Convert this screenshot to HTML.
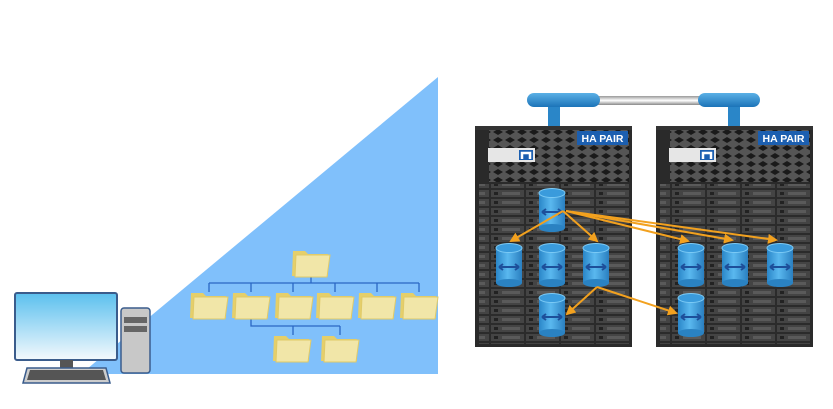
<!DOCTYPE html>
<html><head><style>body{margin:0;background:#fff}svg{display:block}</style></head><body>
<svg width="833" height="409" viewBox="0 0 833 409" xmlns="http://www.w3.org/2000/svg">
<defs>
<linearGradient id="scr" x1="0" y1="0" x2="0" y2="1"><stop offset="0" stop-color="#5bc0ee"/><stop offset="1" stop-color="#f4f9fd"/></linearGradient>
<linearGradient id="cyl" x1="0" y1="0" x2="1" y2="0"><stop offset="0" stop-color="#2a86c8"/><stop offset="0.45" stop-color="#5ab8ef"/><stop offset="1" stop-color="#2a7fc0"/></linearGradient>
<linearGradient id="bar" x1="0" y1="0" x2="0" y2="1"><stop offset="0" stop-color="#5bb0e6"/><stop offset="1" stop-color="#1c74b8"/></linearGradient>
<linearGradient id="gray" x1="0" y1="0" x2="0" y2="1"><stop offset="0" stop-color="#999"/><stop offset="0.5" stop-color="#fff"/><stop offset="1" stop-color="#888"/></linearGradient>
<pattern id="bays" x="0" y="0" width="35" height="9" patternUnits="userSpaceOnUse">
<rect width="35" height="9" fill="#2b2b2b"/><rect x="1" y="1" width="33" height="7" fill="#444"/><rect x="4" y="3" width="4" height="3" fill="#222"/><rect x="12" y="3" width="18" height="3" fill="#5a5a5a"/></pattern>
<pattern id="grill" width="12" height="8" patternUnits="userSpaceOnUse"><rect width="12" height="8" fill="#555"/><path d="M1 4 L6 1 L11 4 L6 7Z" fill="#1a1a1a"/></pattern>
<g id="c"><rect x="0" y="5" width="26" height="35" fill="url(#cyl)"/><ellipse cx="13" cy="40" rx="13" ry="4" fill="#2a82c2"/><ellipse cx="13" cy="5" rx="13" ry="4.5" fill="#3a9bdc" stroke="#7ccaf5" stroke-width="1"/><path d="M3 24 H23 M3 24 l4 -3 M3 24 l4 3 M23 24 l-4 -3 M23 24 l-4 3" stroke="#1d4f9a" stroke-width="2" fill="none"/></g>
<g id="f"><path d="M1 2 h12 l3 3 h20 v22 h-36z" fill="#e5cf6a"/><path d="M4 6 h34 l-3 22 h-32z" fill="#f1e6a8" stroke="#e0ca68" stroke-width="1"/></g>
<marker id="ah" markerWidth="5" markerHeight="5" refX="4" refY="2.5" orient="auto"><path d="M0 0 L5 2.5 L0 5z" fill="#f2a11f"/></marker>
</defs>
<polygon points="438,77 438,374 81,374" fill="#80c0fb"/>
<g stroke="#2a66c4" stroke-width="1.3" fill="none">
<path d="M311 277 V283 M209 283 H419 M209 283V292 M251 283V292 M293 283V292 M335 283V292 M377 283V292 M419 283V292 M251 318 V326 H340 M293 326V335 M340 326V335"/>
</g>
<use href="#f" x="292" y="249"/>
<use href="#f" x="190" y="291"/><use href="#f" x="232" y="291"/><use href="#f" x="275" y="291"/><use href="#f" x="316" y="291"/><use href="#f" x="358" y="291"/><use href="#f" x="400" y="291"/>
<use href="#f" x="273" y="334"/><use href="#f" x="321" y="334"/>
<rect x="15" y="293" width="102" height="67" rx="2" fill="url(#scr)" stroke="#3a5c8c" stroke-width="2"/>
<rect x="60" y="360" width="13" height="8" fill="#555"/>
<path d="M27 368 H106 L110 383 H23Z" fill="#ccc" stroke="#3a5c8c" stroke-width="1.5"/>
<path d="M30 370 H103 L106 380 H27Z" fill="#555"/>
<rect x="121" y="308" width="29" height="65" rx="3" fill="#c8c8c8" stroke="#3a5c8c" stroke-width="1.5"/>
<rect x="124" y="317" width="23" height="6" fill="#666"/><rect x="124" y="326" width="23" height="6" fill="#666"/>
<rect x="548" y="104" width="12" height="24" fill="#2a86c8"/><rect x="728" y="104" width="12" height="24" fill="#2a86c8"/>
<rect x="595" y="96" width="110" height="9" fill="url(#gray)"/>
<rect x="527" y="93" width="73" height="14" rx="7" fill="url(#bar)"/>
<rect x="698" y="93" width="62" height="14" rx="7" fill="url(#bar)"/>
<g id="srv">
<rect x="475" y="126" width="157" height="221" fill="#2a2a2a"/>
<rect x="489" y="128" width="140" height="54" fill="url(#grill)"/>
<rect x="475" y="126" width="157" height="4" fill="#333"/>
<rect x="479" y="184" width="150" height="160" fill="url(#bays)"/>
<rect x="488" y="148" width="47" height="14" fill="#e6e6e6"/>
<rect x="519" y="150" width="14" height="10" fill="#1c5fb0"/><path d="M522 159 V153 H530 V159" stroke="#fff" stroke-width="2.5" fill="none"/>
<rect x="577" y="131" width="51" height="14" fill="#1c5fb0"/>
<text x="602.5" y="142" font-family="Liberation Sans, sans-serif" font-size="10.5" font-weight="bold" fill="#fff" text-anchor="middle">HA PAIR</text>
</g>
<use href="#srv" x="181"/>
<use href="#c" x="539" y="188"/>
<use href="#c" x="496" y="243"/><use href="#c" x="539" y="243"/><use href="#c" x="583" y="243"/>
<use href="#c" x="539" y="293"/>
<use href="#c" x="678" y="243"/><use href="#c" x="722" y="243"/><use href="#c" x="767" y="243"/>
<use href="#c" x="678" y="293"/>
<g stroke="#f2a11f" stroke-width="2" fill="none" marker-end="url(#ah)">
<path d="M563 211 L511 241"/><path d="M563 211 L597 241"/>
<path d="M566 211 L688 241"/><path d="M566 211 L732 240"/><path d="M566 211 L776 240"/>
<path d="M597 287 L567 314"/><path d="M597 287 L676 313"/>
</g>
</svg>
</body></html>
